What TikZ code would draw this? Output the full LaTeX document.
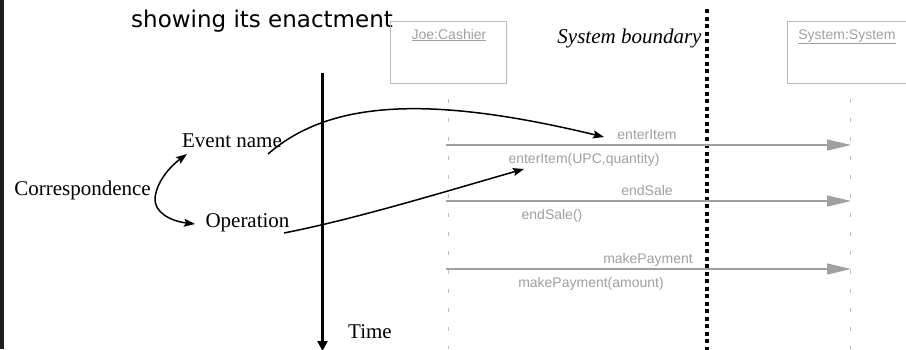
\documentclass[tikz,border=0pt]{standalone}
\usepackage{fontspec}
\setmainfont{Liberation Serif}
\newfontfamily\arialf{Liberation Sans}
\newfontfamily\dejavuf{DejaVu Sans}
\usetikzlibrary{arrows.meta}
\definecolor{umlgray}{RGB}{160,160,160}
\definecolor{boxgray}{RGB}{185,185,185}
\definecolor{lifegray}{RGB}{190,190,190}
\definecolor{barcol}{RGB}{30,30,30}
\begin{document}
\begin{tikzpicture}[x=1pt,y=-1pt,
  serif/.style={font=\fontsize{21}{25}\selectfont, inner sep=0pt, anchor=base},
  umllabel/.style={font=\arialf\fontsize{14}{16}\selectfont, text=umlgray, inner sep=0pt, anchor=base},
  objbox/.style={draw=boxgray, line width=1pt, minimum height=62pt, inner sep=0pt},
  lifeline/.style={draw=lifegray, line width=1pt, dash pattern=on 4pt off 15pt, dash phase=4pt},
  msg/.style={draw=umlgray, line width=1.2pt, -{Triangle[length=24pt,width=11pt,fill=umlgray]}},
  pointer/.style={draw=black, line width=1.5pt, -{Stealth[length=11pt,width=8pt,inset=2pt]}},
  boundary/.style={draw=black, line width=4pt, dash pattern=on 4pt off 3.5pt},
  timeline/.style={draw=black, line width=3pt, -{Triangle[length=10pt,width=10pt]}},
]
\useasboundingbox (0,0) rectangle (906,349);
\clip (0,0) rectangle (906,349);
\fill[white] (0,0) rectangle (906,349);
\fill[barcol] (0,0) rectangle (4,349);

% title fragment
\node[font=\dejavuf\fontsize{23}{27}\selectfont, inner sep=0pt, anchor=base west] (title) at (131,27) {showing its enactment};

% objects
\node[objbox, minimum width=116pt] (joe) at (448,52) {};
\node[objbox, minimum width=126pt] (sys) at (850,52) {};
\node[umllabel] (joelab) at (449,39) {\underline{Joe:Cashier}};
\node[umllabel] (syslab) at (847,39) {\underline{System:System}};

% lifelines
\coordinate (joeEnd) at (448,349);
\coordinate (sysEnd) at (850,349);
\draw[lifeline] (joe.south) -- (joeEnd);
\draw[lifeline] (sys.south) -- (sysEnd);

% system boundary
\coordinate (bTop) at (707,9);
\coordinate (bBot) at (707,352);
\draw[boundary] (bTop) -- (bBot);
\node[serif, font=\itshape\fontsize{21}{25}\selectfont] (boundlab) at (629.5,43) {System boundary};

% messages
\coordinate (m1s) at (446,145); \coordinate (m1e) at (851,145);
\coordinate (m2s) at (446,201); \coordinate (m2e) at (851,201);
\coordinate (m3s) at (446,269); \coordinate (m3e) at (851,269);
\draw[msg] (m1s) -- (m1e);
\draw[msg] (m2s) -- (m2e);
\draw[msg] (m3s) -- (m3e);
\node[umllabel] (l1a) at (647,139) {enterItem};
\node[umllabel] (l1b) at (584,163) {enterItem(UPC,quantity)};
\node[umllabel] (l2a) at (647,195) {endSale};
\node[umllabel] (l2b) at (552,219) {endSale()};
\node[umllabel] (l3a) at (648,263) {makePayment};
\node[umllabel] (l3b) at (591,287.5) {makePayment(amount)};

% time axis
\coordinate (tTop) at (322.5,73);
\coordinate (tBot) at (322.5,351);
\draw[timeline] (tTop) -- (tBot);
\node[serif] (time) at (370,338) {Time};

% left labels
\node[serif] (evt) at (232,147) {Event name};
\node[serif] (corr) at (82.5,195) {Correspondence};
\node[serif] (op) at (247.5,227) {Operation};

% correspondence arrows
\coordinate (cO) at (155,198);
\coordinate (cUp) at (187,154);
\coordinate (cDn) at (195,224);
\draw[pointer] (cO) .. controls (157,180) and (172,165) .. (cUp);
\draw[pointer] (cO) .. controls (154,212) and (170,221) .. (cDn);

% mapping arrows
\coordinate (e1s) at (268,154);
\coordinate (e1e) at (604,137);
\coordinate (e2s) at (284,233);
\coordinate (e2e) at (524,169);
\draw[pointer] (e1s) .. controls (330,100) and (430,95) .. (e1e);
\draw[pointer] (e2s) .. controls (360,218) and (450,190) .. (e2e);
\end{tikzpicture}
\end{document}
